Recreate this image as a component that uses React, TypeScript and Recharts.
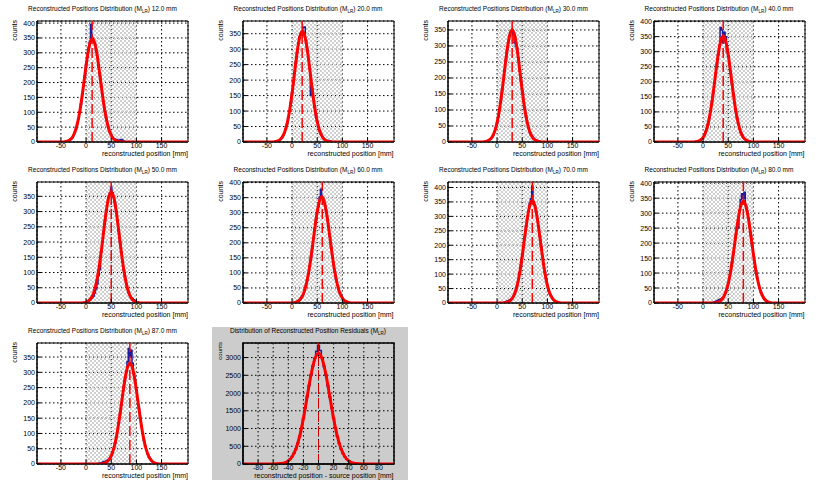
import React from "react"
import { LineChart, Line, XAxis, YAxis, CartesianGrid, ReferenceArea, ReferenceLine } from "recharts"

const FONT = '"Liberation Sans", Arial, Helvetica, sans-serif'
const W = 205
const H = 161

// source positions (mm) of the nine runs
const sources = [12, 20, 30, 40, 50, 60, 70, 80, 87]
const fitMeans = [12.5, 20.5, 30, 40, 50, 59, 70, 80, 87]
const fitOffsets = [-60, -55, -50, -45, -40, -35, -30, -25, -20, -15, -10, -5, 0, 5, 10, 15, 20, 25, 30, 35, 40, 45, 50, 55, 60]
const fit12 = [0, 1, 3, 7, 15, 32, 60, 103, 159, 224, 286, 331, 348, 331, 286, 224, 159, 103, 60, 32, 15, 7, 3, 1, 0]
const fit20 = [0, 1, 3, 7, 16, 33, 62, 106, 164, 231, 295, 341, 358, 341, 295, 231, 164, 106, 62, 33, 16, 7, 3, 1, 0]
const fit30 = [0, 1, 3, 7, 15, 32, 60, 103, 160, 225, 288, 333, 350, 333, 288, 225, 160, 103, 60, 32, 15, 7, 3, 1, 0]
const fit40 = [0, 1, 3, 7, 15, 32, 61, 104, 161, 227, 290, 335, 352, 335, 290, 227, 161, 104, 61, 32, 15, 7, 3, 1, 0]
const fit50 = [0, 1, 3, 7, 16, 33, 63, 108, 167, 235, 300, 347, 365, 347, 300, 235, 167, 108, 63, 33, 16, 7, 3, 1, 0]
const fit60 = [0, 1, 4, 8, 19, 37, 68, 112, 169, 233, 293, 336, 352, 336, 293, 233, 169, 112, 68, 37, 19, 8, 4, 1, 0]
const fit70 = [0, 1, 3, 7, 16, 32, 61, 105, 163, 229, 292, 338, 355, 338, 292, 229, 163, 105, 61, 32, 16, 7, 3, 1, 0]
const fit80 = [0, 1, 3, 8, 18, 36, 65, 108, 163, 225, 283, 325, 340, 325, 283, 225, 163, 108, 65, 36, 18, 8, 3, 1, 0]
const fit87 = [0, 1, 3, 8, 17, 35, 63, 105, 158, 218, 275, 315, 330, 315, 275, 218, 158, 105, 63, 35, 17, 8, 3, 1, 0]
const fitRes = [0, 4, 12, 34, 90, 206, 421, 777, 1282, 1894, 2499, 2951, 3120, 2951, 2499, 1894, 1282, 777, 421, 206, 90, 34, 12, 4, 0]

// histogram bins, 2.5 mm wide, first bin centre in histStarts
const binWidth = 2.5
const histStarts = [-40, -37.5, -27.5, -17.5, -7.5, 0, 10, 17.5, 22.5]
const hist12 = [0, 3, 4, 7, 10, 15, 22, 32, 44, 62, 78, 103, 128, 160, 190, 222, 258, 285, 315, 335, 395, 350, 340, 333, 310, 288, 255, 222, 190, 160, 130, 103, 82, 62, 45, 33, 24, 16, 12, 9, 8, 7, 6, 7, 8, 6, 3, 0]
const hist20 = [0, 1, 2, 3, 4, 6, 9, 14, 21, 30, 42, 58, 78, 100, 128, 158, 190, 224, 258, 290, 318, 340, 350, 345, 370, 372, 330, 300, 268, 237, 150, 172, 140, 111, 86, 65, 47, 35, 24, 17, 11, 8, 5, 5, 4, 4, 2, 0]
const hist30 = [0, 1, 2, 3, 4, 7, 10, 15, 22, 32, 44, 60, 80, 103, 130, 160, 193, 225, 258, 288, 314, 333, 346, 352, 335, 310, 300, 292, 262, 222, 190, 160, 130, 103, 82, 60, 44, 32, 22, 17, 12, 8, 6, 4, 3, 2, 0]
const hist40 = [0, 1, 2, 3, 4, 7, 10, 15, 23, 32, 45, 61, 80, 104, 131, 161, 194, 227, 259, 290, 320, 380, 372, 330, 365, 350, 300, 285, 259, 227, 194, 161, 131, 104, 80, 61, 45, 32, 23, 15, 10, 7, 4, 3, 2, 1, 0]
const hist50 = [0, 1, 2, 3, 5, 7, 10, 14, 18, 23, 33, 46, 63, 90, 110, 167, 201, 235, 269, 300, 327, 347, 361, 380, 362, 347, 327, 300, 269, 235, 201, 167, 136, 108, 83, 63, 46, 33, 23, 16, 14, 11, 7, 4, 3, 1, 0]
const hist60 = [0, 1, 2, 3, 4, 7, 10, 15, 22, 30, 42, 57, 75, 97, 122, 151, 181, 214, 246, 276, 303, 320, 352, 378, 351, 344, 329, 308, 282, 252, 220, 188, 157, 128, 102, 79, 60, 45, 33, 23, 16, 11, 7, 5, 3, 2, 1, 0]
const hist70 = [0, 1, 2, 4, 6, 8, 10, 12, 16, 23, 32, 45, 61, 81, 105, 132, 163, 195, 229, 262, 292, 318, 345, 362, 405, 351, 338, 318, 292, 262, 229, 195, 163, 132, 105, 81, 61, 45, 32, 23, 16, 10, 7, 4, 3, 2, 1, 0]
const hist80 = [0, 2, 3, 5, 7, 9, 11, 13, 15, 18, 26, 36, 49, 65, 85, 108, 134, 163, 194, 225, 255, 250, 307, 345, 365, 350, 370, 325, 307, 283, 255, 225, 194, 163, 134, 108, 85, 65, 49, 36, 26, 18, 12, 8, 5, 3, 2, 1, 0]
const hist87 = [0, 2, 3, 4, 5, 7, 8, 10, 12, 15, 19, 27, 37, 50, 67, 87, 110, 136, 164, 194, 224, 253, 280, 302, 335, 378, 350, 372, 330, 295, 270, 242, 212, 182, 152, 125, 100, 78, 60, 45, 33, 23, 16, 11, 7, 5, 3, 2, 1, 0]
const histResStart = -57.5
const histRes = [0, 4, 7, 12, 21, 34, 56, 92, 140, 210, 300, 425, 585, 780, 1010, 1285, 1580, 1900, 2210, 2510, 2760, 2980, 3180, 3350, 3200, 2990, 2750, 2500, 2200, 1890, 1575, 1280, 1010, 775, 580, 420, 298, 205, 136, 90, 55, 34, 21, 12, 7, 4, 0]

const yMaxes = [407, 391, 378, 402, 397, 402, 419, 404, 396]
const countTicks = [0, 50, 100, 150, 200, 250, 300, 350, 400]
const posTicks = [-50, 0, 50, 100, 150]
const posDomain = [-97.5, 202.5]
const resTicks = [-80, -60, -40, -20, 0, 20, 40, 60, 80]
const resDomain = [-100, 100]
const resCountTicks = [0, 500, 1000, 1500, 2000, 2500, 3000]
const resYMax = 3410
const windowRange = [0, 100]

const fits = [fit12, fit20, fit30, fit40, fit50, fit60, fit70, fit80, fit87]
const hists = [hist12, hist20, hist30, hist40, hist50, hist60, hist70, hist80, hist87]

const RED = "#ff0000"
const BLUE = "#1c1c9c"

function Panel(props: any) {
  const { title, fitMean, fit, histStart, hist, source, yMax, yTicks, xDomain, xTicks, hatch, xLabel, residual, left, top } = props
  const fitData = [{ x: xDomain[0], y: 0 }, ...fitOffsets.map((o, i) => ({ x: fitMean + o, y: fit[i] })), { x: xDomain[1], y: 0 }]
  const histData = hist.map((c: number, i: number) => ({ x: histStart + i * binWidth, y: c }))
  const tickStyle = { fontSize: 7, fill: "#000", fontFamily: FONT }
  return (
    <div style={{ position: "absolute", left, top, width: W, height: H }}>
      {residual && <div style={{ position: "absolute", left: 6.5, top: 5, width: 196, height: 153, background: "#cccccc" }} />}
      <div style={{ position: "absolute", left: 0, top: 5.5, width: W, textAlign: "center", fontSize: 6.5, lineHeight: 1, fontFamily: FONT, whiteSpace: "nowrap" }}>
        {title}(M<sub style={{ fontSize: 4.5 }}>LR</sub>){residual ? "" : ` ${source.toFixed(1)} mm`}
      </div>
      <div style={{ position: "absolute", left: 11, top: 20, writingMode: "vertical-rl", transform: "rotate(180deg)", fontSize: residual ? 6 : 7, lineHeight: 1, fontFamily: FONT }}>
        counts
      </div>
      <div style={{ position: "absolute", right: 17, top: 150, fontSize: 7, lineHeight: 1, fontFamily: FONT, whiteSpace: "nowrap" }}>
        {xLabel}
      </div>
      <div style={{ position: "absolute", left: 0, top: 0 }}>
        <LineChart width={W} height={H} margin={{ top: 21, right: 17, bottom: 0, left: 0 }}>
          {hatch && <ReferenceArea x1={windowRange[0]} x2={windowRange[1]} y1={0} y2={yMax} fill="url(#checker)" fillOpacity={1} stroke="none" />}
          <CartesianGrid stroke="#000" strokeDasharray="1.5 2.5" strokeWidth={1} />
          <XAxis dataKey="x" type="number" domain={xDomain} ticks={xTicks} allowDataOverflow height={19}
            tickSize={-4} tickMargin={5} tick={tickStyle} stroke="#000" interval={0} />
          <YAxis type="number" domain={[0, yMax]} ticks={yTicks} allowDataOverflow width={37}
            tickSize={-4} tickMargin={6} tick={tickStyle} stroke="#000" interval={0} />
          <Line data={histData} dataKey="y" type="step" stroke={BLUE} strokeWidth={1.5} dot={false} isAnimationActive={false} />
          <Line data={fitData} dataKey="y" type="monotone" stroke={RED} strokeWidth={3} dot={false} isAnimationActive={false} />
          <ReferenceLine x={source} stroke={residual ? "#cc0000" : RED} strokeWidth={residual ? 1 : 1.5} strokeDasharray="10 4" />
          <ReferenceArea x1={xDomain[0]} x2={xDomain[1]} y1={0} y2={yMax} fill="none" stroke="#000" strokeWidth={residual ? 1.5 : 1} />
        </LineChart>
      </div>
    </div>
  )
}

export default function App() {
  const colW = 205.5
  const rowH = 161
  return (
    <div style={{ position: "absolute", left: 0, top: 0, width: 822, height: 484, background: "#fff" }}>
      <svg width={0} height={0} style={{ position: "absolute" }}>
        <defs>
          <pattern id="checker" width={4} height={4} patternUnits="userSpaceOnUse">
            <rect x={0} y={0} width={2} height={2} fill="#cfcfcf" />
            <rect x={2} y={2} width={2} height={2} fill="#cfcfcf" />
          </pattern>
        </defs>
      </svg>
      {sources.map((s, i) => (
        <Panel key={s}
          left={(i % 4) * colW} top={Math.floor(i / 4) * rowH}
          title="Reconstructed Positions Distribution " fitMean={fitMeans[i]} fit={fits[i]}
          histStart={histStarts[i]} hist={hists[i]} source={s} yMax={yMaxes[i]}
          yTicks={countTicks.filter((t) => t <= yMaxes[i])} xDomain={posDomain} xTicks={posTicks}
          hatch xLabel="reconstructed position [mm]" />
      ))}
      <Panel left={colW} top={2 * rowH}
        title="Distribution of Reconstructed Position Residuals " fitMean={0} fit={fitRes}
        histStart={histResStart} hist={histRes} source={0} yMax={resYMax}
        yTicks={resCountTicks} xDomain={resDomain} xTicks={resTicks}
        residual xLabel="reconstructed position - source position [mm]" />
    </div>
  )
}
